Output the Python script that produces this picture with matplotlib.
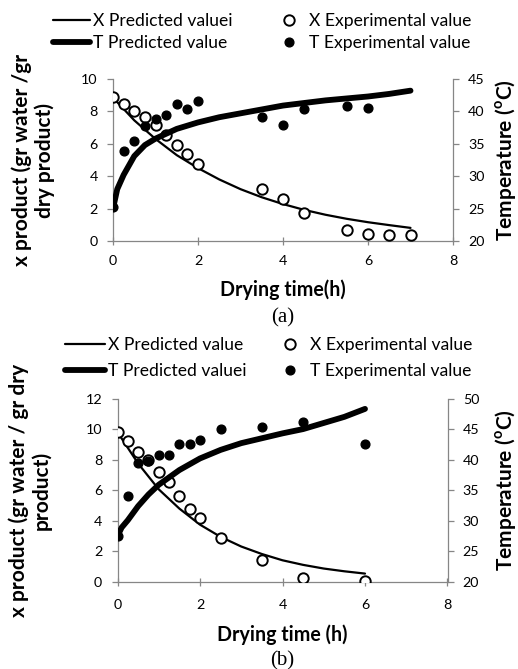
import matplotlib
matplotlib.use("Agg")
import matplotlib.pyplot as plt

# ---------------- data (a) ----------------
a_t_exp = [0, 0.25, 0.5, 0.75, 1.0, 1.25, 1.5, 1.75, 2.0, 3.5, 4.0, 4.5, 5.5, 6.0, 6.5, 7.0]
a_x_exp = [8.88, 8.44, 8.02, 7.65, 7.17, 6.54, 5.94, 5.35, 4.77, 3.23, 2.6, 1.7, 0.67, 0.46, 0.35, 0.35]
a_tT_exp = [0, 0.25, 0.5, 0.75, 1.0, 1.25, 1.5, 1.75, 2.0, 3.5, 4.0, 4.5, 5.5, 6.0]
a_T_exp = [25.2, 33.9, 35.4, 37.7, 38.9, 39.5, 41.1, 40.3, 41.6, 39.2, 37.9, 40.3, 40.9, 40.6]
a_t_pred = [0, 0.5, 1, 1.5, 2, 2.5, 3, 3.5, 4, 4.5, 5, 5.5, 6, 6.5, 7]
a_x_pred = [8.85, 7.45, 6.3, 5.3, 4.5, 3.8, 3.2, 2.7, 2.28, 1.92, 1.62, 1.37, 1.16, 0.98, 0.81]
a_tT_pred = [0, 0.1, 0.25, 0.5, 0.75, 1, 1.5, 2, 2.5, 3, 3.5, 4, 4.5, 5, 5.5, 6, 6.5, 7]
a_T_pred = [25.0, 28.0, 30.2, 33.1, 34.8, 35.8, 37.3, 38.3, 39.1, 39.7, 40.3, 40.9, 41.3, 41.7, 42.0, 42.3, 42.7, 43.2]

# ---------------- data (b) ----------------
b_t_exp = [0, 0.25, 0.5, 0.75, 1.0, 1.25, 1.5, 1.75, 2.0, 2.5, 3.5, 4.5, 6.0]
b_x_exp = [9.8, 9.23, 8.49, 7.99, 7.22, 6.52, 5.64, 4.79, 4.18, 2.91, 1.47, 0.29, 0.08]
b_T_exp = [27.5, 34.1, 39.4, 39.8, 40.7, 40.7, 42.5, 42.5, 43.2, 45.0, 45.4, 46.1, 42.5]
b_t_pred = [0, 0.5, 1, 1.5, 2, 2.5, 3, 3.5, 4, 4.5, 5, 5.5, 6]
b_x_pred = [9.8, 7.75, 6.06, 4.8, 3.75, 2.95, 2.32, 1.83, 1.42, 1.12, 0.88, 0.7, 0.55]
b_tT_pred = [0, 0.1, 0.25, 0.5, 0.75, 1, 1.5, 2, 2.5, 3, 3.5, 4, 4.5, 5, 5.5, 6]
b_T_pred = [27.5, 28.9, 30.1, 32.4, 34.3, 35.9, 38.3, 40.2, 41.6, 42.7, 43.5, 44.3, 45.0, 46.0, 47.0, 48.3]

xticks = [0, 2, 4, 6, 8]
a_yticks = [0, 2, 4, 6, 8, 10]
a_Tticks = [20, 25, 30, 35, 40, 45]
b_yticks = [0, 2, 4, 6, 8, 10, 12]
b_Tticks = [20, 25, 30, 35, 40, 45, 50]

plt.rcParams['font.family'] = ['Lato', 'DejaVu Sans']
GRAY = '#868686'
W, H = 518, 669

fig = plt.figure(figsize=(W / 100, H / 100), dpi=100)
renderer = fig.canvas.get_renderer()


def fit_size(s, target_px, **kw):
    t = fig.text(0, 0, s, fontsize=10, **kw)
    w = t.get_window_extent(renderer).width
    t.remove()
    return 10 * target_px / w


TICKFS = fit_size('10', 16.5)
LEGFS = fit_size('X Predicted valuei', 140)
XLABFS = fit_size('Drying time(h)', 125, fontweight='bold')
YLABFS = 15


def panel(rect, t_exp, x_exp, tT_exp, T_exp, t_pred, x_pred, tT_pred, T_pred,
          yticks, Tticks, xlab, ylab, ylab_x, tlab_x, xlab_y, xpad, tag, tag_y,
          leg_labels, col1_left, col1_hl, col2_mark, leg_cy, row_pitch):
    ax = fig.add_axes(rect)
    ax2 = ax.twinx()
    ln_x, = ax.plot(t_pred, x_pred, color='black', lw=1.6, solid_capstyle='round', zorder=2)
    mk_x, = ax.plot(t_exp, x_exp, 'o', ms=7.5, mfc='white', mec='black', mew=1.4, zorder=3)
    ln_T, = ax2.plot(tT_pred, T_pred, color='black', lw=4.2, solid_capstyle='round', zorder=2)
    mk_T, = ax2.plot(tT_exp, T_exp, 'o', ms=6.3, mfc='black', mec='black', zorder=3)

    ax.set_xlim(xticks[0], xticks[-1])
    ax.set_ylim(yticks[0], yticks[-1])
    ax2.set_ylim(Tticks[0], Tticks[-1])
    ax.set_xticks(xticks)
    ax.set_yticks(yticks)
    ax2.set_yticks(Tticks)

    for a in (ax, ax2):
        for s in a.spines.values():
            s.set_color(GRAY)
            s.set_linewidth(0.9)
        a.spines['top'].set_visible(False)
    ax.spines['right'].set_visible(False)
    ax2.spines['left'].set_visible(False)
    ax2.spines['bottom'].set_visible(False)

    ax.tick_params(axis='x', direction='inout', length=6, width=0.9, color=GRAY,
                   labelsize=TICKFS, pad=xpad)
    ax.tick_params(axis='y', direction='out', length=4, width=0.9, color=GRAY,
                   labelsize=TICKFS, pad=7)
    ax2.tick_params(axis='y', direction='out', length=4, width=0.9, color=GRAY,
                    labelsize=TICKFS, pad=7)

    ax.set_xlabel(xlab, fontsize=XLABFS, fontweight='bold')
    ax.xaxis.label.set_va('center')
    ax.xaxis.set_label_coords(0.5, xlab_y)
    ax.set_ylabel(ylab, fontsize=YLABFS, fontweight='bold', linespacing=1.15)
    ax.yaxis.label.set_va('center')
    ax.yaxis.set_label_coords(ylab_x, 0.5)
    ax2.set_ylabel('Temperature ($^{\\mathregular{o}}$C)', fontsize=YLABFS, fontweight='bold')
    ax2.yaxis.label.set_va('center')
    ax2.yaxis.set_label_coords(tlab_x, 0.5)

    ax.text(0.5, tag_y, tag, transform=ax.transAxes, ha='center', va='center',
            fontsize=15, family='Liberation Serif')

    fpx = LEGFS * 100 / 72
    # row height of legend text approx (ascent+descent) -> choose spacing to match pitch
    probe = fig.text(0, 0, 'Xp', fontsize=LEGFS)
    rh = probe.get_window_extent(renderer).height
    probe.remove()
    lsp = max(0.0, (row_pitch - rh) / fpx)
    common = dict(loc='center left', frameon=False, fontsize=LEGFS, borderpad=0,
                  borderaxespad=0, labelspacing=lsp)
    # column 1: predicted lines
    fig.legend([ln_x, ln_T], leg_labels[:2], bbox_to_anchor=(col1_left / W, 1 - leg_cy / H),
               handlelength=col1_hl / fpx, handletextpad=3 / fpx, **common)
    # column 2: experimental markers (marker centre at col2_mark, text 20 px to its right)
    hl2 = 16 / fpx
    fig.legend([mk_x, mk_T], leg_labels[2:],
               bbox_to_anchor=((col2_mark - 8) / W, 1 - leg_cy / H),
               handlelength=hl2, handletextpad=12 / fpx, **common)
    return ax, ax2


panel([113 / W, 1 - 241 / H, 340 / W, 162 / H],
      a_t_exp, a_x_exp, a_tT_exp, a_T_exp, a_t_pred, a_x_pred, a_tT_pred, a_T_pred,
      a_yticks, a_Tticks, 'Drying time(h)', 'x product (gr water /gr\ndry product)',
      -0.235, 1.155, -0.30, 7, '(a)', -0.475,
      ['X Predicted valuei', 'T Predicted value', 'X Experimental value', 'T Experimental value'],
      53, 37, 289, 31.7, 22)

panel([117.5 / W, 1 - 582 / H, 330 / W, 183.5 / H],
      b_t_exp, b_x_exp, b_t_exp, b_T_exp, b_t_pred, b_x_pred, b_tT_pred, b_T_pred,
      b_yticks, b_Tticks, 'Drying time (h)', 'x product (gr water / gr dry\nproduct)',
      -0.265, 1.175, -0.289, 9, '(b)', -0.43,
      ['X Predicted value', 'T Predicted valuei', 'X Experimental value', 'T Experimental value'],
      65, 40, 290, 358, 26)

fig.savefig('out.png', dpi=100)
